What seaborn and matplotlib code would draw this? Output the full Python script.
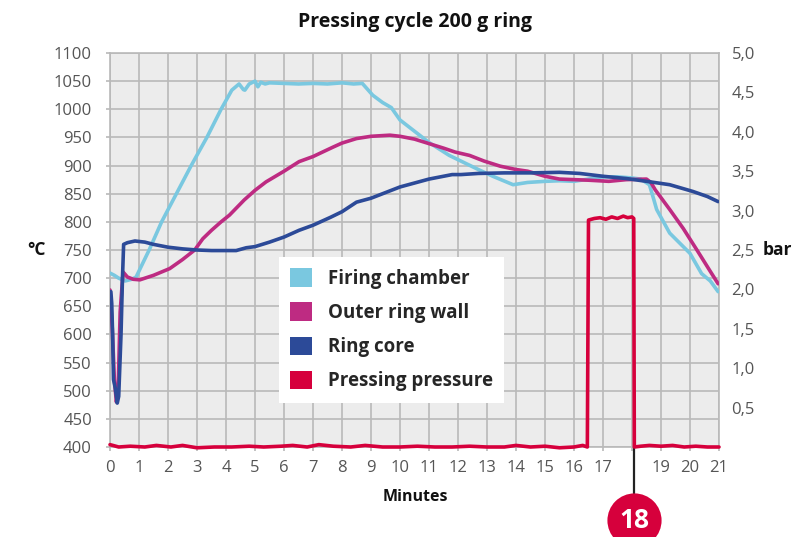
import numpy as np
import pandas as pd
import matplotlib
matplotlib.use('Agg')
import matplotlib.pyplot as plt
import matplotlib.transforms as mtransforms
from matplotlib.patches import Patch
import seaborn as sns

# values
time_firing = [0, 0.15, 0.3, 0.52, 0.75, 0.9, 1.35, 1.78, 2.29, 2.8, 3.34, 3.83, 4.2, 4.45,
               4.6, 4.65, 4.8, 5.0, 5.1, 5.2, 5.35, 5.5, 6.0, 6.5, 7.0, 7.5, 8.0, 8.4, 8.7,
               9.06, 9.4, 9.7, 10.0, 10.6, 11.0, 11.7, 12.3, 12.7, 13.2, 13.9,
               14.4, 15.0, 15.5, 16.0, 16.5, 17.0, 17.5, 18.0, 18.3, 18.6,
               18.75, 18.85, 19.3, 19.65, 20.0, 20.4, 20.7, 20.97]
temp_firing = [709, 705, 700, 695, 698, 702, 750, 800, 850, 900, 950, 1000, 1034, 1045,
               1035, 1034, 1045, 1050, 1040, 1048, 1045, 1047, 1046, 1045, 1046, 1045, 1047, 1045, 1046,
               1025, 1012, 1003, 981, 957, 941, 918, 903, 893, 881, 866,
               870, 872, 873, 872, 876, 880, 880, 878, 876, 866,
               840, 822, 780, 762, 744, 708, 695, 676]

time_wall = [0, 0.08, 0.15, 0.22, 0.28, 0.35, 0.45, 0.6, 0.8, 1.03, 1.5, 2.06, 2.5, 2.92, 3.2,
             3.5, 3.83, 4.12, 4.63, 5.0, 5.38, 6.0, 6.52, 7.0, 7.37, 7.7, 8.0, 8.5, 9.0, 9.65,
             10.0, 10.5, 11.0, 11.5, 11.9, 12.4, 12.9, 13.45, 14.0, 14.4, 15.0, 15.5, 16.0,
             16.5, 17.2, 17.8, 18.5, 18.65, 18.8, 19.3, 19.77, 20.3, 20.7, 20.97]
temp_wall = [679, 610, 520, 480, 500, 640, 711, 702, 698, 697, 705, 717, 733, 750, 770,
             785, 800, 812, 839, 856, 871, 890, 907, 916, 925, 933, 940, 948, 952, 954,
             952, 947, 939, 931, 924, 918, 908, 899, 893, 890, 881, 876, 875,
             874, 872, 875, 876, 870, 857, 822, 788, 745, 712, 690]

time_core = [0.03, 0.06, 0.09, 0.12, 0.18, 0.25, 0.3, 0.38, 0.43, 0.47, 0.6, 0.86, 1.2, 1.5,
             2.0, 2.5, 3.0, 3.5, 4.0, 4.35, 4.7, 5.0, 5.5, 6.0, 6.52, 7.0, 7.6, 8.0, 8.5, 9.0,
             10.0, 10.5, 11.0, 11.8, 12.1, 12.7, 13.6, 14.5, 15.5, 16.2, 17.0, 17.8, 18.5,
             19.3, 20.1, 20.6, 20.97]
temp_core = [676, 655, 600, 520, 505, 478, 490, 600, 700, 760, 763, 766, 764, 760,
             755, 752, 750, 749, 749, 749, 754, 756, 764, 773, 785, 794, 808, 818, 835, 842,
             862, 869, 876, 884, 884, 886, 887, 887, 888, 886, 881, 877, 872,
             866, 854, 845, 836]

time_press = [0, 0.3, 0.7, 1.2, 1.6, 2.1, 2.5, 3.0, 3.6, 4.2, 4.8, 5.3, 5.9, 6.3, 6.8, 7.2,
              7.7, 8.3, 8.8, 9.4, 10.0, 10.6, 11.2, 11.8, 12.4, 13.0, 13.6, 14.0, 14.5, 15.0,
              15.5, 16.0, 16.3, 16.46, 16.5, 16.7, 16.9, 17.1, 17.3, 17.5, 17.7, 17.85, 18.0,
              18.06, 18.08, 18.3, 18.6, 19.0, 19.4, 19.8, 20.2, 20.6, 21.0]
press_bar = [0.03, 0.0, 0.01, 0.0, 0.02, 0.0, 0.02, -0.01, 0.0, 0.0, 0.01, 0.0, 0.01, 0.02, 0.0, 0.03,
             0.01, 0.0, 0.02, 0.0, 0.0, 0.01, 0.0, 0.0, 0.01, 0.0, 0.0, 0.02, 0.0, 0.01,
             -0.01, 0.0, 0.02, 0.0, 2.88, 2.90, 2.91, 2.89, 2.92, 2.90, 2.93, 2.91, 2.92,
             2.90, 0.0, 0.01, 0.02, 0.01, 0.02, 0.0, 0.01, 0.0, 0.0]

series_names = ['Firing chamber', 'Outer ring wall', 'Ring core', 'Pressing pressure']
colors = ['#7ac8e0', '#be2b82', '#2c4a98', '#d6003c']

x_ticks = list(range(0, 22))
x_labels = [str(t) if t != 18 else '' for t in x_ticks]
temp_ticks = list(range(400, 1101, 50))
bar_ticks = [0.5, 1.0, 1.5, 2.0, 2.5, 3.0, 3.5, 4.0, 4.5, 5.0]
bar_labels = ['{:.1f}'.format(b).replace('.', ',') for b in bar_ticks]
marker_minute = 18.07

sns.set_style('white')
plt.rcParams['font.family'] = ['Open Sans', 'DejaVu Sans']

grid_col = '#b9b9b9'
text_col = '#555555'
lw = 2.6

fig = plt.figure(figsize=(7.98, 5.37), dpi=100)
ax = fig.add_axes([110 / 798, 90 / 537, 609 / 798, 394 / 537])
ax.set_facecolor('#ececec')

for t, v, c in [(time_firing, temp_firing, colors[0]),
                (time_wall, temp_wall, colors[1]),
                (time_core, temp_core, colors[2])]:
    df = pd.DataFrame({'t': t, 'v': v})
    sns.lineplot(data=df, x='t', y='v', ax=ax, color=c, linewidth=lw,
                 estimator=None, sort=False, zorder=3)

ax.set_xlim(0, 21)
ax.set_ylim(400, 1100)
ax.set_xticks(x_ticks)
ax.set_xticklabels(x_labels)
ax.set_yticks(temp_ticks)
ax.grid(True, color=grid_col, linewidth=1.2, zorder=0)
ax.set_axisbelow(True)
for s in ax.spines.values():
    s.set_color(grid_col)
    s.set_linewidth(1.2)
ax.tick_params(axis='y', left=True, right=True, labelright=False, length=3, width=1.2,
               color=grid_col, labelcolor=text_col, labelsize=12, pad=10)
ax.tick_params(axis='x', bottom=True, length=3, width=1.2, color=grid_col,
               labelcolor=text_col, labelsize=12, pad=6)
ax.set_xlabel('')
ax.set_ylabel('')

ax2 = ax.twinx()
dfp = pd.DataFrame({'t': time_press, 'bar': press_bar})
sns.lineplot(data=dfp, x='t', y='bar', ax=ax2, color=colors[3], linewidth=lw,
             estimator=None, sort=False)
for ln in ax2.lines:
    ln.set_clip_on(False)
ax2.set_ylim(0, 5)
ax2.set_yticks(bar_ticks)
ax2.set_yticklabels(bar_labels)
ax2.tick_params(axis='y', length=0, labelcolor=text_col, labelsize=12, pad=9)
ax2.set_ylabel('')
ax2.set_xlabel('')
for s in ax2.spines.values():
    s.set_visible(False)

handles = [Patch(facecolor=c, edgecolor='none') for c in colors]
leg = ax2.legend(handles, series_names, loc='upper left', bbox_to_anchor=(0.2775, 0.482),
                 frameon=True, fancybox=False, framealpha=1, facecolor='white', edgecolor='none',
                 prop={'weight': 'bold', 'size': 13.5}, handlelength=1.15, handleheight=1.15,
                 handletextpad=0.85, labelspacing=0.72, borderpad=0.6, borderaxespad=0)
leg.set_zorder(10)

# marker for minute 18
trans = mtransforms.blended_transform_factory(ax.transData, ax.transAxes)
ax.plot([marker_minute, marker_minute], [0, -0.12], color='#222222', linewidth=1.6,
        transform=trans, clip_on=False, zorder=5)
ax.plot([marker_minute], [-0.185], marker='o', markersize=39, color=colors[3],
        markeredgewidth=0, transform=trans, clip_on=False, zorder=6)
ax.text(marker_minute, -0.187, '18', transform=trans, ha='center', va='center',
        color='white', fontsize=19, fontweight='bold', zorder=7)

fig.text(415 / 798, 1 - 22 / 537, 'Pressing cycle 200 g ring', ha='center', va='center',
         fontsize=14, fontweight='bold', color='#111111')
fig.text(36 / 798, 1 - 250 / 537, '°C', ha='center', va='center', fontsize=12.5,
         fontweight='bold', color='#111111')
fig.text(777 / 798, 1 - 250 / 537, 'bar', ha='center', va='center', fontsize=12.5,
         fontweight='bold', color='#111111')
fig.text(415 / 798, 1 - 497 / 537, 'Minutes', ha='center', va='center', fontsize=11.5,
         fontweight='bold', color='#111111')

fig.savefig('out.png', dpi=100)
